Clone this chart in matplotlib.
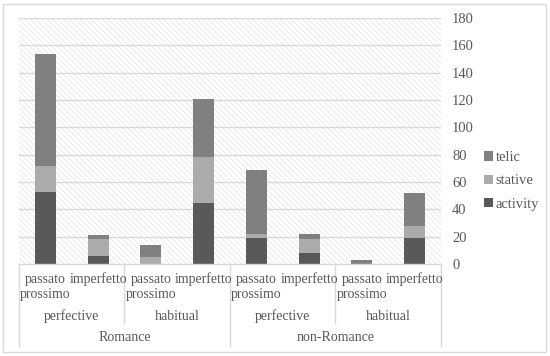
import matplotlib
matplotlib.use("Agg")
import matplotlib.pyplot as plt
from matplotlib.patches import Rectangle
import numpy as np

plt.rcParams["font.family"] = ["Liberation Serif", "DejaVu Serif"]
plt.rcParams["hatch.linewidth"] = 0.5

# 데이터
groups = ["Romance", "non-Romance"]
aspects = ["perfective", "habitual"]
tenses = ["passato\nprossimo", "imperfetto"]
activity = [53, 6, 0, 45, 19, 8, 0, 19]
stative = [19, 12, 5, 33, 3, 10, 0, 9]
telic = [82, 3, 9, 43, 47, 4, 3, 24]
yticks = list(range(0, 181, 20))

C_ACT, C_STA, C_TEL = "#595959", "#ababab", "#808080"
TXT = "#595959"
LINE = "#d9d9d9"
FS = 10

fig = plt.figure(figsize=(5.5, 3.56), dpi=100)
fig.patches.append(Rectangle((3 / 550, 4 / 356), 543 / 550, 348 / 356, transform=fig.transFigure,
                             fill=False, edgecolor=LINE, lw=1))
ax = fig.add_axes([19 / 550, 92 / 356, 422 / 550, 246 / 356])

ax.add_patch(Rectangle((0, 0), 1, 1, transform=ax.transAxes, facecolor="white",
                       hatch="\\\\\\\\\\\\", edgecolor="#e2e2e2", lw=0, zorder=0))

x = np.arange(len(activity)) + 0.5
w = 0.4
a = np.array(activity); s = np.array(stative); t = np.array(telic)
ax.bar(x, a, w, color=C_ACT, label="activity", zorder=3)
ax.bar(x, s, w, bottom=a, color=C_STA, label="stative", zorder=3)
ax.bar(x, t, w, bottom=a + s, color=C_TEL, label="telic", zorder=3)

ax.set_xlim(0, 8)
ax.set_ylim(0, 180)
ax.set_yticks(yticks)
ax.yaxis.tick_right()
ax.tick_params(axis="y", length=0, pad=8, labelsize=10.5, labelcolor=TXT)
ax.set_xticks([])
for v in yticks[1:]:
    ax.axhline(v, color=LINE, lw=1, zorder=1)
for sp in ax.spines.values():
    sp.set_visible(False)
ax.axhline(0, color=LINE, lw=1, zorder=4, clip_on=False)

# 다단계 x축 라벨
tr = ax.get_xaxis_transform()
for i in range(8):
    ax.text(x[i], -0.035, tenses[i % 2], transform=tr, ha="center", va="top",
            fontsize=FS, color=TXT, linespacing=1.2, multialignment="center")
for j in range(4):
    ax.text(2 * j + 1, -0.212, aspects[j % 2], transform=tr, ha="center", va="center",
            fontsize=FS, color=TXT)
for k in range(2):
    ax.text(4 * k + 2, -0.3, groups[k], transform=tr, ha="center", va="center",
            fontsize=FS, color=TXT)
for xv in [2, 6]:
    ax.plot([xv, xv], [0, -0.24], transform=tr, color=LINE, lw=1, clip_on=False)
for xv in [0, 4, 8]:
    ax.plot([xv, xv], [0, -0.333], transform=tr, color=LINE, lw=1, clip_on=False)

h, l = ax.get_legend_handles_labels()
leg = fig.legend(h[::-1], l[::-1], loc="upper left", bbox_to_anchor=(471 / 550, 218 / 356),
                 frameon=False, fontsize=10.5, handlelength=0.6, handleheight=0.6,
                 handletextpad=0.2, labelspacing=0.7)
for txt in leg.get_texts():
    txt.set_color(TXT)

fig.savefig("out.png", dpi=100)
